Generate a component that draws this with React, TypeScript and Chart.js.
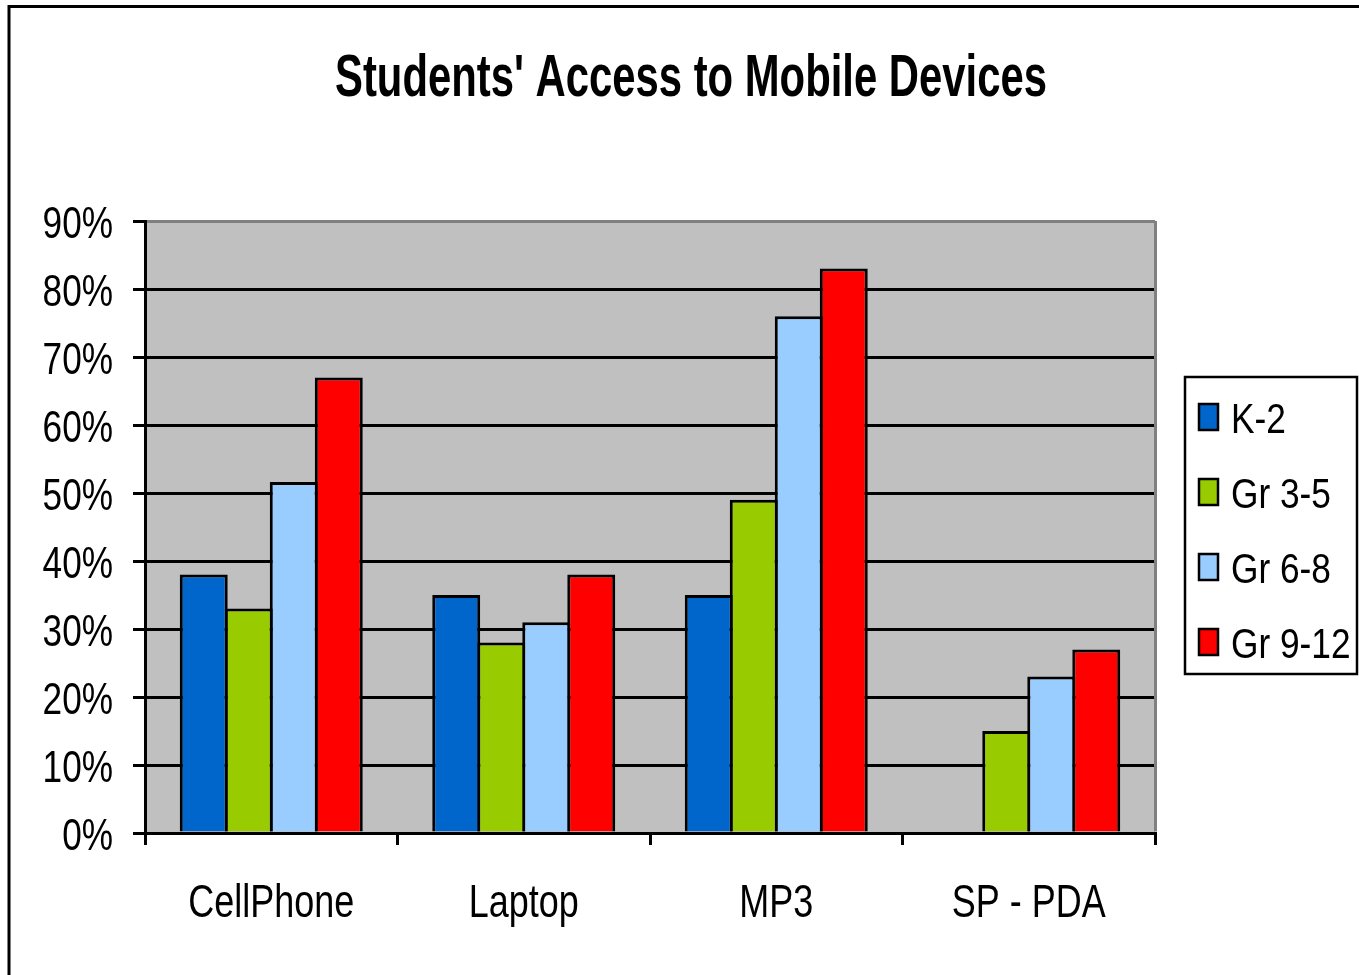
import { useEffect, useRef } from "react";
import { Chart, registerables } from "chart.js";

Chart.register(...registerables);

// Survey data: share of students with access to each device, by grade band (percent)
const categories = ["CellPhone", "Laptop", "MP3", "SP - PDA"];
const seriesNames = ["K-2", "Gr 3-5", "Gr 6-8", "Gr 9-12"];
const k2Values = [38, 35, 35, null];
const gr35Values = [33, 28, 49, 15];
const gr68Values = [51.6, 31, 76, 23];
const gr912Values = [67, 38, 83, 27];
const seriesColors = ["#0066CC", "#99CC00", "#99CCFF", "#FF0000"];
const yMin = 0;
const yMax = 90;
const yStep = 10;
const chartTitle = "Students' Access to Mobile Devices";

const SANS = "'Liberation Sans', Arial, sans-serif";

// Draws text squeezed horizontally, giving a narrow typeface look
function drawCondensed(
  ctx: CanvasRenderingContext2D,
  text: string,
  x: number,
  y: number,
  font: string,
  sx: number,
  align: CanvasTextAlign
) {
  ctx.save();
  ctx.font = font;
  ctx.translate(x, y);
  ctx.scale(sx, 1);
  ctx.fillStyle = "#000000";
  ctx.textAlign = align;
  ctx.textBaseline = "alphabetic";
  ctx.fillText(text, 0, 0);
  ctx.restore();
}

// Light-grey plot background, grey top/right edge and the outer chart frame
const framePlugin = {
  id: "frame",
  beforeDraw(chart: Chart) {
    const { ctx, chartArea } = chart;
    ctx.save();
    ctx.fillStyle = "#FFFFFF";
    ctx.fillRect(0, 0, chart.width, chart.height);
    ctx.fillStyle = "#C0C0C0";
    ctx.fillRect(chartArea.left, chartArea.top, chartArea.right - chartArea.left, chartArea.bottom - chartArea.top);
    ctx.restore();
  },
  afterDraw(chart: Chart) {
    const { ctx, chartArea } = chart;
    ctx.save();
    ctx.strokeStyle = "#808080";
    ctx.lineWidth = 3;
    ctx.beginPath();
    ctx.moveTo(chartArea.right + 0.5, chartArea.top);
    ctx.lineTo(chartArea.right + 0.5, chartArea.bottom - 1.5);
    ctx.stroke();

    ctx.strokeStyle = "#000000";
    ctx.lineWidth = 3;
    ctx.beginPath();
    ctx.moveTo(9, chart.height);
    ctx.lineTo(9, 6.5);
    ctx.lineTo(chart.width, 6.5);
    ctx.stroke();
    ctx.restore();
  },
};

// Narrow tick labels placed from the scales' own tick positions
const tickLabelPlugin = {
  id: "narrowTickLabels",
  afterDraw(chart: Chart) {
    const { ctx } = chart;
    const y = chart.scales.y;
    y.ticks.forEach((t, i) => {
      const py = y.getPixelForTick(i);
      drawCondensed(ctx, String(t.label), 113, py + 16.5, `44px ${SANS}`, 0.8, "right");
    });
    const x = chart.scales.x;
    x.ticks.forEach((t, i) => {
      const px = x.getPixelForTick(i);
      drawCondensed(ctx, String(t.label), px, 917, `47px ${SANS}`, 0.765, "center");
    });
  },
};

// Condensed bold title
const titlePlugin = {
  id: "condensedTitle",
  afterDraw(chart: Chart) {
    const { ctx } = chart;
    ctx.save();
    ctx.font = `bold 60px ${SANS}`;
    const w = ctx.measureText(chartTitle).width;
    ctx.restore();
    drawCondensed(ctx, chartTitle, 691, 96, `bold 60px ${SANS}`, 712 / w, "center");
  },
};

// Boxed legend to the right of the plot
const legendPlugin = {
  id: "boxedLegend",
  afterDraw(chart: Chart) {
    const { ctx } = chart;
    ctx.save();
    ctx.fillStyle = "#FFFFFF";
    ctx.fillRect(1185, 377, 172, 297);
    ctx.strokeStyle = "#000000";
    ctx.lineWidth = 2.5;
    ctx.strokeRect(1185, 377, 172, 297);
    chart.data.datasets.forEach((ds, i) => {
      const cy = 417 + i * 75;
      ctx.fillStyle = ds.backgroundColor as string;
      ctx.fillRect(1199, cy - 13, 19, 26);
      ctx.strokeStyle = "#000000";
      ctx.lineWidth = 2.5;
      ctx.strokeRect(1199, cy - 13, 19, 26);
      drawCondensed(ctx, ds.label as string, 1231, cy + 15.5, `43px ${SANS}`, 0.82, "left");
    });
    ctx.restore();
  },
};

export default function App() {
  const canvasRef = useRef<HTMLCanvasElement | null>(null);

  useEffect(() => {
    const canvas = canvasRef.current;
    if (!canvas) return;
    const seriesValues = [k2Values, gr35Values, gr68Values, gr912Values];
    const chart = new Chart(canvas, {
      type: "bar",
      data: {
        labels: categories,
        datasets: seriesNames.map((name, i) => ({
          label: name,
          data: seriesValues[i],
          backgroundColor: seriesColors[i],
          borderColor: "#000000",
          borderWidth: 3,
          // bars slightly wider than their slot so neighbours share one border
          barPercentage: 1.066,
          categoryPercentage: 0.713,
        })),
      },
      options: {
        responsive: false,
        animation: false,
        devicePixelRatio: 1,
        layout: { padding: { left: 0, top: 221, right: 204, bottom: 0 } },
        plugins: {
          legend: { display: false },
          title: { display: false },
          tooltip: { enabled: false },
        },
        scales: {
          x: {
            grid: {
              offset: true,
              drawOnChartArea: false,
              drawTicks: true,
              tickLength: 12,
              color: "#000000",
              lineWidth: 3,
            },
            border: { display: true, color: "#000000", width: 3 },
            ticks: {
              color: "rgba(0,0,0,0)",
              font: { family: SANS, size: 40 },
              padding: 29,
              maxRotation: 0,
              autoSkip: false,
            },
            afterFit: (scale: any) => {
              scale.height = 142;
            },
          },
          y: {
            min: yMin,
            max: yMax,
            ticks: {
              stepSize: yStep,
              callback: (v: any) => `${v}%`,
              color: "rgba(0,0,0,0)",
              font: { family: SANS, size: 40 },
              padding: 20,
            },
            grid: {
              color: (c: any) => (c.tick && c.tick.value === yMax ? "#808080" : "#000000"),
              tickColor: "#000000",
              lineWidth: 3,
              tickLength: 12,
            },
            border: { color: "#000000", width: 3 },
            afterFit: (scale: any) => {
              scale.width = 145;
            },
          },
        },
      },
      plugins: [framePlugin, tickLabelPlugin, titlePlugin, legendPlugin],
    });
    return () => chart.destroy();
  }, []);

  return (
    <canvas
      ref={canvasRef}
      width={1359}
      height={975}
      style={{ position: "fixed", left: 0, top: 0, width: 1359, height: 975 }}
    />
  );
}
